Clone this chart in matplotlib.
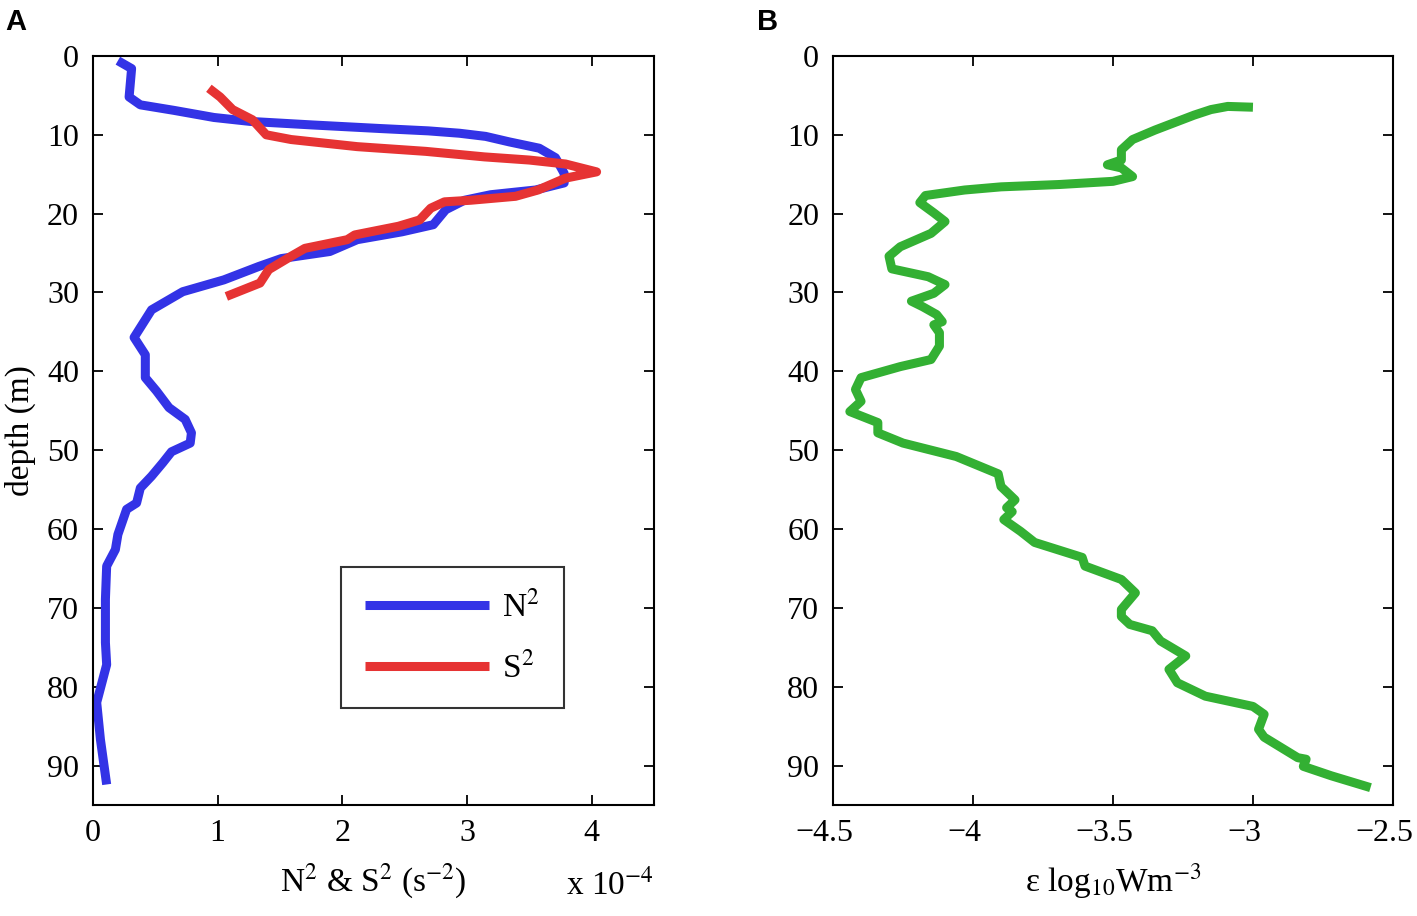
import numpy as np
import matplotlib
matplotlib.use("Agg")
import matplotlib.pyplot as plt
import matplotlib.transforms as mtransforms

plt.rcParams['font.family'] = ['Liberation Serif', 'DejaVu Serif']
plt.rcParams['mathtext.fontset'] = 'stix'

# N^2 profile (x 1e-4 s^-2) vs depth (m)
n2_val = [0.2, 0.31, 0.29, 0.38, 0.65, 0.97, 1.26, 1.76, 2.3, 2.69, 2.94, 3.15, 3.34, 3.58,
          3.71, 3.78, 3.78, 3.55, 3.19, 2.98, 2.83, 2.73, 2.48, 2.12, 1.9, 1.51, 1.33, 1.05,
          0.72, 0.47, 0.33, 0.42, 0.42, 0.51, 0.61, 0.74, 0.79, 0.78, 0.63, 0.56, 0.47, 0.38,
          0.35, 0.27, 0.2, 0.18, 0.11, 0.1, 0.1, 0.11, 0.03, 0.06, 0.11]
n2_depth = [0.6, 1.6, 5.2, 6.2, 6.9, 7.8, 8.3, 8.75, 9.2, 9.5, 9.8, 10.2, 10.9, 11.7,
            12.9, 14.9, 16.1, 17.0, 17.6, 18.3, 19.5, 21.4, 22.3, 23.3, 24.8, 25.7, 26.7, 28.4,
            29.9, 32.2, 35.7, 37.9, 40.8, 42.5, 44.6, 46.1, 47.8, 49.1, 50.2, 51.6, 53.3, 54.8,
            56.7, 57.5, 60.7, 62.6, 64.7, 68.9, 74.4, 77.2, 82.0, 86.7, 92.4]

# S^2 profile
s2_val = [0.93, 1.02, 1.12, 1.28, 1.39, 1.59, 2.12, 2.67, 3.14, 3.5, 3.79, 4.04, 3.79, 3.57,
          3.39, 3.03, 2.82, 2.71, 2.62, 2.45, 2.1, 2.04, 1.7, 1.59, 1.41, 1.34, 1.07]
s2_depth = [4.1, 5.2, 6.8, 8.1, 10.0, 10.6, 11.5, 12.1, 12.8, 13.2, 13.7, 14.7, 15.5, 17.0,
            17.8, 18.3, 18.5, 19.3, 20.8, 21.6, 22.7, 23.3, 24.4, 25.4, 27.1, 28.8, 30.5]

# dissipation (log10 W m^-3) vs depth
eps_val = [-3.0, -3.09, -3.15, -3.21, -3.35, -3.43, -3.47, -3.47, -3.52, -3.47, -3.43, -3.5,
           -3.69, -3.9, -4.03, -4.17, -4.19, -4.14, -4.1, -4.15, -4.26, -4.3, -4.29, -4.16,
           -4.1, -4.14, -4.22, -4.18, -4.13, -4.11, -4.14, -4.12, -4.12, -4.15, -4.26, -4.4,
           -4.42, -4.4, -4.44, -4.34, -4.34, -4.25, -4.06, -3.91, -3.9, -3.85, -3.88, -3.86,
           -3.89, -3.83, -3.78, -3.61, -3.6, -3.47, -3.42, -3.47, -3.47, -3.44, -3.36, -3.33,
           -3.24, -3.3, -3.27, -3.17, -3.0, -2.96, -2.98, -2.96, -2.84, -2.81, -2.82, -2.72, -2.58]
eps_depth = [6.5, 6.4, 6.8, 7.5, 9.4, 10.6, 11.9, 13.2, 13.8, 14.2, 15.3, 15.9,
             16.3, 16.6, 17.0, 17.7, 18.6, 19.9, 21.0, 22.5, 24.2, 25.4, 27.0, 28.0,
             29.0, 30.1, 31.1, 31.8, 32.8, 33.7, 34.1, 35.1, 36.8, 38.5, 39.4, 40.8,
             42.3, 43.8, 45.1, 46.5, 47.8, 49.1, 50.8, 53.0, 54.6, 56.3, 57.3, 57.8,
             58.8, 60.3, 61.7, 63.6, 64.7, 66.4, 68.1, 70.2, 71.1, 72.1, 72.9, 74.2,
             76.1, 77.8, 79.5, 81.2, 82.5, 83.5, 85.4, 86.4, 89.0, 89.2, 90.1, 91.3, 92.8]

blue = '#3333e6'
red = '#e63333'
green = '#33b033'
lw = 6.5

fig = plt.figure(figsize=(14.17, 9.16), dpi=100)
ax1 = fig.add_axes([0.0656, 0.1212, 0.3959, 0.8177])
ax2 = fig.add_axes([0.5879, 0.1212, 0.3951, 0.8177])

def style(ax):
    ax.set_ylim(95, 0)
    ax.set_yticks(np.arange(0, 91, 10))
    ax.tick_params(direction='in', length=7, width=1.3, top=True, right=True,
                   labelsize=23, pad=10)
    for s in ax.spines.values():
        s.set_linewidth(1.5)

ax1.plot(n2_val, n2_depth, color=blue, lw=lw, label='N$^2$', solid_capstyle='butt')
ax1.plot(s2_val, s2_depth, color=red, lw=lw, label='S$^2$', solid_capstyle='butt')
style(ax1)
ax1.set_xlim(0, 4.5)
ax1.set_xticks([0, 1, 2, 3, 4])
ax1.set_ylabel('depth (m)', fontsize=24, labelpad=8)
ax1.set_xlabel('N$^2$ & S$^2$ (s$^{-2}$)', fontsize=24, labelpad=10)
ax1.text(1.0, -0.085, 'x 10$^{-4}$', transform=ax1.transAxes, ha='right', va='top', fontsize=24)
leg = ax1.legend(loc='upper left', bbox_to_anchor=(0.443, 0.318), fontsize=24,
                 fancybox=False, edgecolor='black', handlelength=3.7, handletextpad=0.4,
                 borderpad=0.72, labelspacing=0.85, borderaxespad=0)
leg.get_frame().set_linewidth(1.5)

ax2.plot(eps_val, eps_depth, color=green, lw=lw, solid_capstyle='butt')
style(ax2)
ax2.set_xlim(-4.5, -2.5)
ax2.set_xticks([-4.5, -4, -3.5, -3, -2.5])
ax2.set_xticklabels(['\u22124.5', '\u22124', '\u22123.5', '\u22123', '\u22122.5'])
# negative labels sit a little left of their ticks, as in the original
shift = mtransforms.ScaledTranslation(-9 / 100, 0, fig.dpi_scale_trans)
for lab in ax2.get_xticklabels():
    lab.set_transform(lab.get_transform() + shift)
ax2.set_xlabel('\u03b5 log$_{10}$Wm$^{-3}$', fontsize=24, labelpad=10)

fig.text(0.0035, 0.991, 'A', fontsize=21, fontweight='bold', family='Liberation Sans', va='top')
fig.text(0.534, 0.991, 'B', fontsize=21, fontweight='bold', family='Liberation Sans', va='top')

fig.savefig('out.png', dpi=100)
